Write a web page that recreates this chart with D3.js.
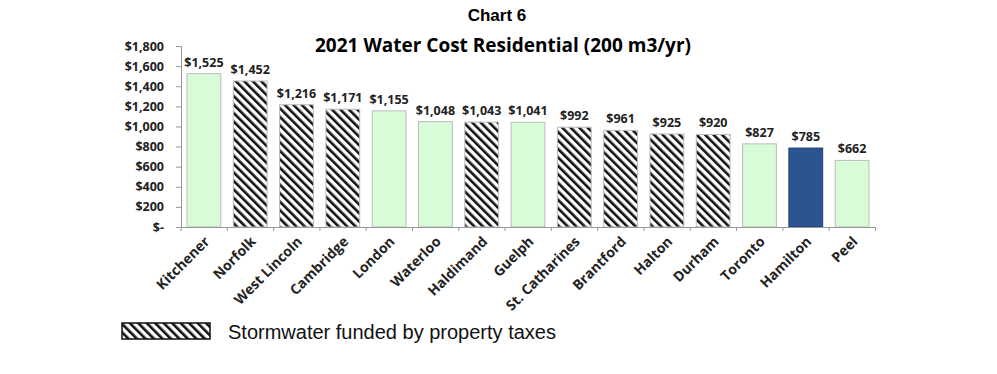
<!DOCTYPE html>
<html>
<head>
<meta charset="utf-8">
<script src="https://cdn.jsdelivr.net/npm/d3@7"></script>
<style>
  body { margin: 0; background: #fff; }
  svg { display: block; }
</style>
</head>
<body>
<div id="chart"></div>
<script>
// values
const cities = ["Kitchener", "Norfolk", "West Lincoln", "Cambridge", "London", "Waterloo",
  "Haldimand", "Guelph", "St. Catharines", "Brantford", "Halton", "Durham", "Toronto", "Hamilton", "Peel"];
const costs = [1525, 1452, 1216, 1171, 1155, 1048, 1043, 1041, 992, 961, 925, 920, 827, 785, 662];
// "h" = stormwater funded by property taxes, "g" = other, "b" = Hamilton
const kinds = ["g", "h", "h", "h", "g", "g", "h", "g", "h", "h", "h", "h", "g", "b", "g"];
const yTicks = [0, 200, 400, 600, 800, 1000, 1200, 1400, 1600, 1800];

const width = 997, height = 374;
const plotLeft = 181, plotRight = 875, plotTop = 46, plotBottom = 227;

const svg = d3.select("#chart").append("svg")
  .attr("width", width).attr("height", height);

const defs = svg.append("defs");
const hatch = defs.append("pattern")
  .attr("id", "hatch")
  .attr("patternUnits", "userSpaceOnUse")
  .attr("width", 6).attr("height", 6)
  .attr("patternTransform", "rotate(-45)");
hatch.append("rect").attr("width", 6).attr("height", 6).attr("fill", "#fff");
hatch.append("rect").attr("x", 0).attr("width", 2.6).attr("height", 6).attr("fill", "#111");

const x = d3.scaleBand().domain(cities).range([plotLeft, plotRight]).paddingInner(0.27).paddingOuter(0.13);
const y = d3.scaleLinear().domain([0, 1800]).range([plotBottom, plotTop]);

const fillFor = k => k === "h" ? "url(#hatch)" : k === "b" ? "#2a5590" : "#d8fcd8";
const fmt = d3.format(",");

// titles
svg.append("text")
  .attr("x", 497).attr("y", 21)
  .attr("text-anchor", "middle")
  .attr("font-family", "Liberation Sans, Arial, sans-serif")
  .attr("font-weight", "bold").attr("font-size", 17)
  .text("Chart 6");

svg.append("text")
  .attr("x", 503).attr("y", 52)
  .attr("text-anchor", "middle")
  .attr("font-family", "Open Sans, sans-serif")
  .attr("font-weight", "bold").attr("font-size", 19)
  .text("2021 Water Cost Residential (200 m3/yr)");

// bars
svg.append("g").selectAll("rect")
  .data(cities)
  .join("rect")
  .attr("x", d => x(d))
  .attr("y", (d, i) => y(costs[i]))
  .attr("width", x.bandwidth())
  .attr("height", (d, i) => y(0) - y(costs[i]))
  .attr("fill", (d, i) => fillFor(kinds[i]))
  .attr("stroke", (d, i) => kinds[i] === "b" ? "#1d3f6e" : "#bbb")
  .attr("stroke-width", 1);

// value labels
svg.append("g").selectAll("text")
  .data(cities)
  .join("text")
  .attr("x", d => x(d) + x.bandwidth() / 2)
  .attr("y", (d, i) => y(costs[i]) - 7)
  .attr("text-anchor", "middle")
  .attr("font-family", "Open Sans, sans-serif")
  .attr("font-weight", "bold").attr("font-size", 12.5)
  .attr("fill", "#222")
  .text((d, i) => "$" + fmt(costs[i]));

// y axis
const yAxis = d3.axisLeft(y).tickValues(yTicks).tickSize(5).tickPadding(12)
  .tickFormat(d => d === 0 ? "$-" : "$" + fmt(d));
const gy = svg.append("g").attr("transform", `translate(${plotLeft},0)`).call(yAxis);
gy.select(".domain").attr("stroke", "#999");
gy.selectAll(".tick line").attr("stroke", "#999");
gy.selectAll(".tick text")
  .attr("font-family", "Open Sans, sans-serif")
  .attr("font-weight", "bold").attr("font-size", 12.5).attr("fill", "#222");

// x axis
const xAxis = d3.axisBottom(x).tickSize(0).tickPadding(0);
const gx = svg.append("g").attr("transform", `translate(0,${plotBottom})`).call(xAxis);
gx.select(".domain").attr("stroke", "#999");
gx.selectAll(".tick text")
  .attr("font-family", "Open Sans, sans-serif")
  .attr("font-weight", "bold").attr("font-size", 14).attr("fill", "#222")
  .attr("text-anchor", "end")
  .attr("transform", "translate(3,12) rotate(-45)")
  .attr("dy", "0.35em");
// category separators
svg.append("g").selectAll("line")
  .data(d3.range(cities.length + 1))
  .join("line")
  .attr("x1", i => plotLeft + i * x.step())
  .attr("x2", i => plotLeft + i * x.step())
  .attr("y1", plotBottom).attr("y2", plotBottom + 4)
  .attr("stroke", "#999");

// legend
svg.append("rect")
  .attr("x", 122).attr("y", 323).attr("width", 88).attr("height", 16)
  .attr("fill", "url(#hatch)").attr("stroke", "#111").attr("stroke-width", 1.5);
svg.append("text")
  .attr("x", 228).attr("y", 339)
  .attr("font-family", "Liberation Sans, Arial, sans-serif")
  .attr("font-size", 20).attr("fill", "#111")
  .text("Stormwater funded by property taxes");
</script>
</body>
</html>
